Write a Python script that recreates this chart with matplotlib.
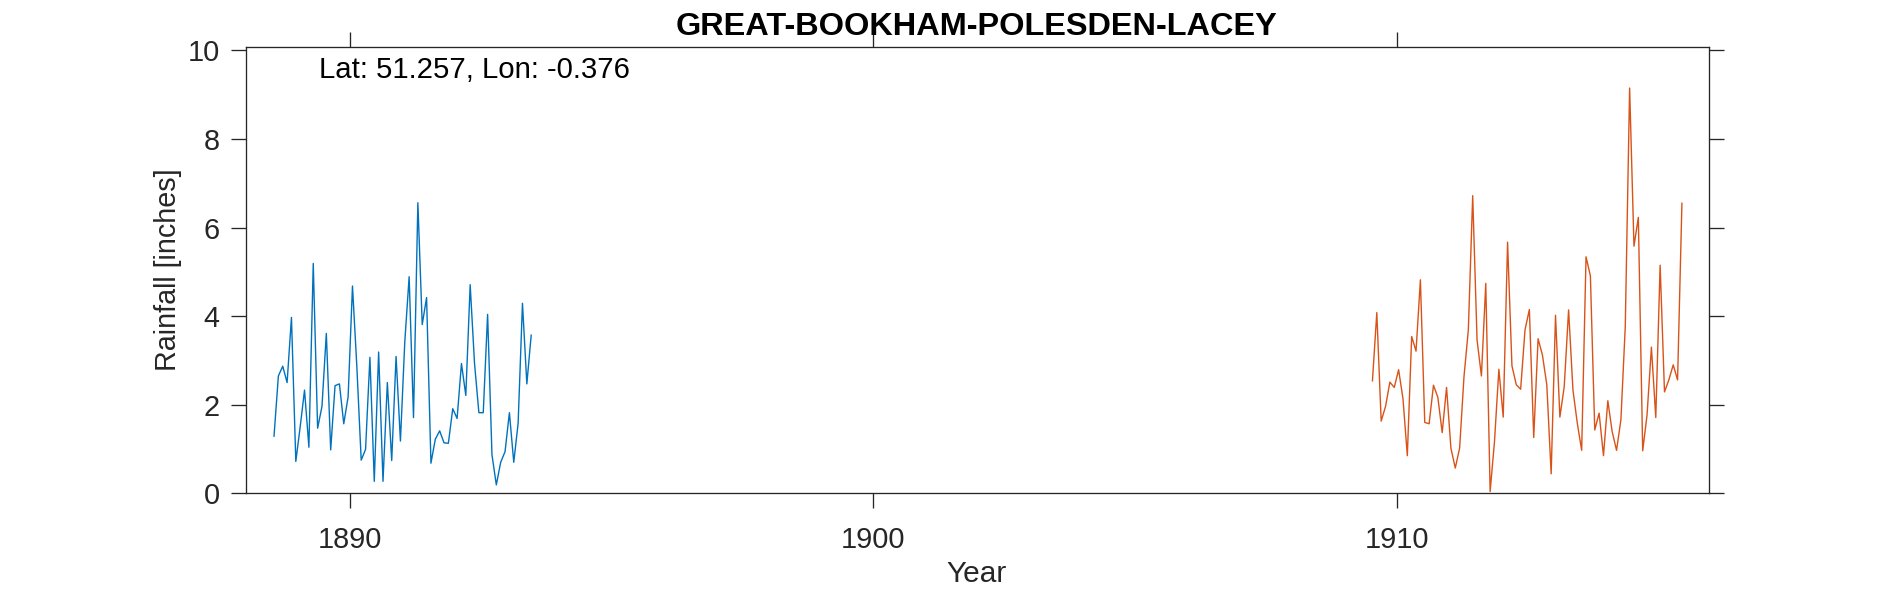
import numpy as np
import matplotlib
matplotlib.use('Agg')
import matplotlib.pyplot as plt

plt.rcParams['font.family'] = ['Liberation Sans', 'DejaVu Sans']

# monthly rainfall in inches
start_early = 1888.54
rain_early = [1.29, 2.65, 2.87, 2.50, 3.97, 0.72, 1.50, 2.33, 1.04, 5.19, 1.47, 1.96,
              3.61, 0.98, 2.43, 2.47, 1.57, 2.18, 4.68, 2.86, 0.75, 0.99, 3.07, 0.27,
              3.19, 0.27, 2.50, 0.74, 3.09, 1.18, 3.42, 4.89, 1.71, 6.56, 3.81, 4.42,
              0.68, 1.22, 1.41, 1.14, 1.13, 1.91, 1.69, 2.93, 2.21, 4.71, 2.93, 1.82,
              1.82, 4.04, 0.87, 0.19, 0.70, 0.94, 1.82, 0.70, 1.58, 4.29, 2.47, 3.57]

start_late = 1909.54
rain_late = [2.54, 4.08, 1.63, 1.96, 2.51, 2.39, 2.79, 2.14, 0.85, 3.54, 3.21, 4.82,
             1.60, 1.57, 2.44, 2.17, 1.37, 2.39, 1.02, 0.57, 1.02, 2.63, 3.69, 6.72,
             3.46, 2.65, 4.74, 0.04, 1.17, 2.80, 1.72, 5.67, 2.88, 2.45, 2.35, 3.69,
             4.15, 1.26, 3.49, 3.12, 2.45, 0.44, 4.02, 1.72, 2.41, 4.14, 2.33, 1.58,
             0.97, 5.34, 4.91, 1.43, 1.81, 0.85, 2.09, 1.39, 0.97, 1.66, 3.76, 9.15,
             5.58, 6.23, 0.96, 1.77, 3.30, 1.71, 5.15, 2.29, 2.56, 2.90, 2.56, 6.55]

x_ticks = [1890, 1900, 1910]
y_ticks = [0, 2, 4, 6, 8, 10]

W, H = 1890, 591
fig = plt.figure(figsize=(W / 100, H / 100), dpi=100)
ax = fig.add_axes([246.3 / W, 1 - 493.3 / H, (1709.3 - 246.3) / W, (493.3 - 47.3) / H])

t_early = start_early + np.arange(len(rain_early)) / 12
t_late = start_late + np.arange(len(rain_late)) / 12
ax.plot(t_early, rain_early, color='#0072BD', lw=1.0)
ax.plot(t_late, rain_late, color='#D95319', lw=1.0)

ax.set_xlim(1888.01, 1915.98)
ax.set_ylim(0, 10.07)
ax.set_xticks(x_ticks)
ax.set_yticks(y_ticks)
ax.tick_params(direction='out', length=10.8, width=0.95, color='#262626',
               labelcolor='#262626', labelsize=20.8, top=True, right=True)
ax.tick_params(axis='x', pad=13)
ax.tick_params(axis='y', pad=8.4)
for s in ax.spines.values():
    s.set_linewidth(0.95)
    s.set_color('#262626')

# placed by hand, matlab puts these further out than the default
fig.text(976.6 / W, 1 - 574 / H, 'Year', fontsize=21.5, color='#262626', ha='center', va='center')
fig.text(168 / W, 1 - 270 / H, 'Rainfall [inches]', fontsize=20.7, color='#262626',
         rotation=90, ha='center', va='center')
fig.text(977 / W, 1 - 35 / H, 'GREAT-BOOKHAM-POLESDEN-LACEY', fontsize=23.4, fontweight='bold',
         ha='center', va='baseline')
fig.text(319 / W, 1 - 78 / H, 'Lat: 51.257, Lon: -0.376', fontsize=21.2, ha='left', va='baseline')

fig.savefig('out.png', dpi=100)
